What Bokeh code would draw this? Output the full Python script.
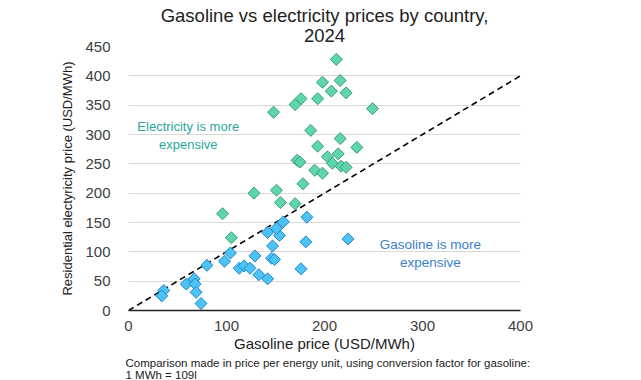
import math
from bokeh.plotting import figure
from bokeh.models import Label, Title, Range1d
from bokeh.embed import file_html
from bokeh.resources import INLINE

# Electricity more expensive (above parity line)
elec_gas = [212, 216, 198, 207, 222, 176, 170, 193, 148, 249, 186, 216, 193, 233, 203,
            214, 172, 175, 208, 217, 222, 190, 198, 178, 151, 128, 155, 170, 96, 105]
elec_el = [428, 392, 389, 374, 371, 361, 351, 361, 338, 344, 307, 293, 280, 278, 262,
           267, 256, 253, 251, 246, 244, 239, 234, 216, 205, 200, 184, 182, 165, 124]

# Gasoline more expensive (below parity line)
gas_gas = [36, 34, 59, 67, 68, 69, 74, 80, 98, 104, 113, 118, 124, 129, 133, 142,
           146, 149, 176, 147, 181, 224, 142, 154, 151, 158, 182]
gas_el = [34, 25, 45, 54, 45, 31, 12, 77, 84, 98, 72, 76, 72, 93, 61, 54,
          89, 87, 71, 110, 117, 122, 133, 128, 140, 151, 159]

parity_x = [0, 400]
parity_y = [0, 400]

y_ticks = [0, 50, 100, 150, 200, 250, 300, 350, 400, 450]
x_ticks = [0, 100, 200, 300, 400]

FONT = "Liberation Sans"

p = figure(width=625, height=380, output_backend="svg", toolbar_location=None,
           x_range=Range1d(0, 400), y_range=Range1d(0, 450),
           min_border_left=128, min_border_right=105, min_border_top=46,
           min_border_bottom=69, title=None)

p.add_layout(Title(text="2024", align="center", text_font=FONT, text_font_size="18.5px",
                   text_font_style="normal", text_color="#222222", standoff=9), "above")
p.add_layout(Title(text="Gasoline vs electricity prices by country,", align="center",
                   text_font=FONT, text_font_size="18.5px", text_font_style="normal",
                   text_color="#222222", standoff=-6), "above")

p.add_layout(Title(text="Comparison made in price per energy unit,  using conversion factor for gasoline:\n 1 MWh = 109l",
                   align="left", text_font=FONT, text_font_size="11.5px",
                   text_font_style="normal", text_color="#222222", offset=-3,
                   standoff=0), "below")

p.outline_line_color = None
p.xgrid.grid_line_color = None
p.ygrid.grid_line_color = "#d9d9d9"
p.ygrid.grid_line_width = 1

p.xaxis.ticker = x_ticks
p.yaxis.ticker = y_ticks
for ax in (p.xaxis, p.yaxis):
    ax.major_tick_line_color = None
    ax.minor_tick_line_color = None
    ax.major_label_text_font = FONT
    ax.major_label_text_font_size = "15px"
    ax.major_label_text_color = "#404040"
    ax.axis_label_text_font = FONT
    ax.axis_label_text_font_style = "normal"
    ax.axis_label_text_color = "#222222"
p.yaxis.axis_line_color = None
p.xaxis.axis_line_color = "#222222"
p.xaxis.axis_line_width = 1.5
p.xaxis.axis_label = "Gasoline price (USD/MWh)"
p.xaxis.axis_label_text_font_size = "15px"
p.xaxis.axis_label_standoff = 1
p.yaxis.axis_label = "Residential electyricity price (USD/MWh)"
p.yaxis.axis_label_text_font_size = "13px"
p.yaxis.axis_label_standoff = 7
p.xaxis.major_label_standoff = 4
p.yaxis.major_label_standoff = 12

p.line(parity_x, parity_y, line_color="black", line_width=1.6, line_dash="6 4")

p.scatter(elec_gas, elec_el, marker="square", angle=math.pi / 4, size=8.5,
          fill_color="#5fd6a8", line_color="#3a9a80", line_width=1)
p.scatter(gas_gas, gas_el, marker="square", angle=math.pi / 4, size=8.5,
          fill_color="#4cc3f6", line_color="#2a85c2", line_width=1)

p.add_layout(Label(x=61, y=298, text="Electricity is more\nexpensive", text_align="center",
                   text_baseline="middle", text_font=FONT, text_font_size="13px",
                   text_color="#2aa89a"))
p.add_layout(Label(x=308, y=98, text="Gasoline is more\nexpensive", text_align="center",
                   text_baseline="middle", text_font=FONT, text_font_size="13.5px",
                   text_color="#3a7fc8"))

open("out.html", "w").write(file_html(p, INLINE))
